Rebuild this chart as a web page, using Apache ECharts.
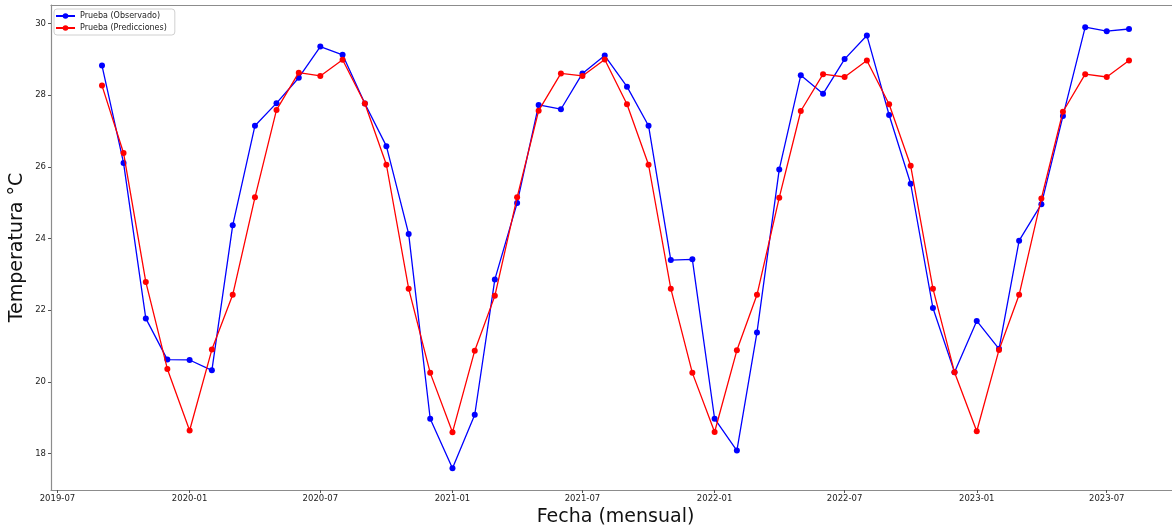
<!DOCTYPE html>
<html>
<head>
<meta charset="utf-8">
<script src="https://cdn.jsdelivr.net/npm/echarts@6/dist/echarts.min.js"></script>
<style>
  html, body { margin: 0; padding: 0; background: #fff; }
  #chart { width: 1172px; height: 527px; }
</style>
</head>
<body>
<div id="chart"></div>
<script>
var months = [
    '2019-09', '2019-10', '2019-11', '2019-12',
    '2020-01', '2020-02', '2020-03', '2020-04', '2020-05', '2020-06',
    '2020-07', '2020-08', '2020-09', '2020-10', '2020-11', '2020-12',
    '2021-01', '2021-02', '2021-03', '2021-04', '2021-05', '2021-06',
    '2021-07', '2021-08', '2021-09', '2021-10', '2021-11', '2021-12',
    '2022-01', '2022-02', '2022-03', '2022-04', '2022-05', '2022-06',
    '2022-07', '2022-08', '2022-09', '2022-10', '2022-11', '2022-12',
    '2023-01', '2023-02', '2023-03', '2023-04', '2023-05', '2023-06',
    '2023-07', '2023-08'
];

var observado = [
    28.83, 26.11, 21.77, 20.62,
    20.61, 20.32, 24.37, 27.15, 27.78, 28.49,
    29.36, 29.13, 27.77, 26.58, 24.13, 18.97,
    17.59, 19.08, 22.86, 24.99, 27.73, 27.61,
    28.61, 29.11, 28.24, 27.15, 23.40, 23.42,
    18.97, 18.08, 21.38, 25.93, 28.56, 28.04,
    29.01, 29.67, 27.45, 25.53, 22.06, 20.27,
    21.70, 20.92, 23.94, 24.96, 27.42, 29.90,
    29.79, 29.85
];

var predicciones = [
    28.27, 26.39, 22.79, 20.36,
    18.64, 20.90, 22.43, 25.15, 27.59, 28.63,
    28.54, 28.99, 27.77, 26.06, 22.60, 20.25,
    18.59, 20.87, 22.40, 25.15, 27.57, 28.61,
    28.54, 29.00, 27.75, 26.06, 22.60, 20.25,
    18.60, 20.88, 22.43, 25.14, 27.56, 28.59,
    28.51, 28.97, 27.75, 26.03, 22.60, 20.27,
    18.62, 20.89, 22.43, 25.12, 27.54, 28.59,
    28.51, 28.97
];

var xTicks = ['2019-07', '2020-01', '2020-07', '2021-01', '2021-07', '2022-01', '2022-07', '2023-01', '2023-07'];
var yTicks = [18, 20, 22, 24, 26, 28, 30];

// dates go on a plain value axis as UTC timestamps
function dayTime(d) {
    return Date.parse(d + 'T00:00:00Z');
}

function monthTime(m) {
    return dayTime(m + '-01');
}

function pairs(values) {
    var out = [];
    for (var i = 0; i < months.length; i++) {
        out.push([monthTime(months[i]), values[i]]);
    }
    return out;
}

var xTickTimes = xTicks.map(monthTime);
var xMin = dayTime('2019-06-22');
var xMax = dayTime('2023-10-11');
var font = 'DejaVu Sans';
var spine = { show: true, lineStyle: { color: '#8c8c8c', width: 1.2 } };

option = {
    animation: false,
    backgroundColor: '#ffffff',
    textStyle: { fontFamily: font },
    grid: {
        left: 51,
        right: -8,
        top: 5,
        bottom: 37,
        outerBoundsMode: 'none',
        containLabel: false
    },
    legend: {
        orient: 'vertical',
        left: 54,
        top: 9,
        padding: [3, 8, 3, 1],
        itemGap: 4,
        itemWidth: 19,
        itemHeight: 7,
        borderColor: '#d0d0d0',
        borderWidth: 1,
        borderRadius: 3,
        textStyle: { fontFamily: font, fontSize: 8, color: '#222' },
        data: ['Prueba (Observado)', 'Prueba (Predicciones)']
    },
    xAxis: [
        {
            type: 'value',
            position: 'bottom',
            min: xMin,
            max: xMax,
            name: 'Fecha (mensual)',
            nameLocation: 'middle',
            nameGap: 17,
            nameTextStyle: { fontFamily: font, fontSize: 19, color: '#111', verticalAlign: 'top' },
            splitLine: { show: false },
            axisLine: spine,
            axisTick: {
                show: true,
                length: 3,
                lineStyle: { color: '#555' },
                customValues: xTickTimes
            },
            axisLabel: {
                fontFamily: font,
                fontSize: 8.5,
                color: '#222',
                margin: 4,
                customValues: xTickTimes,
                formatter: function (v) {
                    var d = new Date(v);
                    var m = d.getUTCMonth() + 1;
                    return d.getUTCFullYear() + '-' + (m < 10 ? '0' + m : m);
                }
            }
        },
        {
            // top spine only
            type: 'value',
            position: 'top',
            min: xMin,
            max: xMax,
            splitLine: { show: false },
            axisLine: spine,
            axisTick: { show: false },
            axisLabel: { show: false }
        }
    ],
    yAxis: {
        type: 'value',
        min: 16.98,
        max: 30.52,
        name: 'Temperatura °C',
        nameLocation: 'middle',
        nameGap: 24,
        nameMoveOverlap: false,
        nameRotate: 90,
        nameTextStyle: { fontFamily: font, fontSize: 19, color: '#111' },
        splitLine: { show: false },
        axisLine: spine,
        axisTick: {
            show: true,
            length: 3,
            lineStyle: { color: '#555' },
            customValues: yTicks
        },
        axisLabel: {
            fontFamily: font,
            fontSize: 8.5,
            color: '#222',
            margin: 5,
            customValues: yTicks
        }
    },
    series: [
        {
            name: 'Prueba (Observado)',
            type: 'line',
            data: pairs(observado),
            color: '#0000ff',
            symbol: 'circle',
            symbolSize: 6,
            showAllSymbol: true,
            lineStyle: { width: 1.3 },
            z: 2
        },
        {
            name: 'Prueba (Predicciones)',
            type: 'line',
            data: pairs(predicciones),
            color: '#ff0000',
            symbol: 'circle',
            symbolSize: 6,
            showAllSymbol: true,
            lineStyle: { width: 1.3 },
            z: 3
        }
    ]
};

var chart = echarts.init(document.getElementById('chart'));
chart.setOption(option);
</script>
</body>
</html>
